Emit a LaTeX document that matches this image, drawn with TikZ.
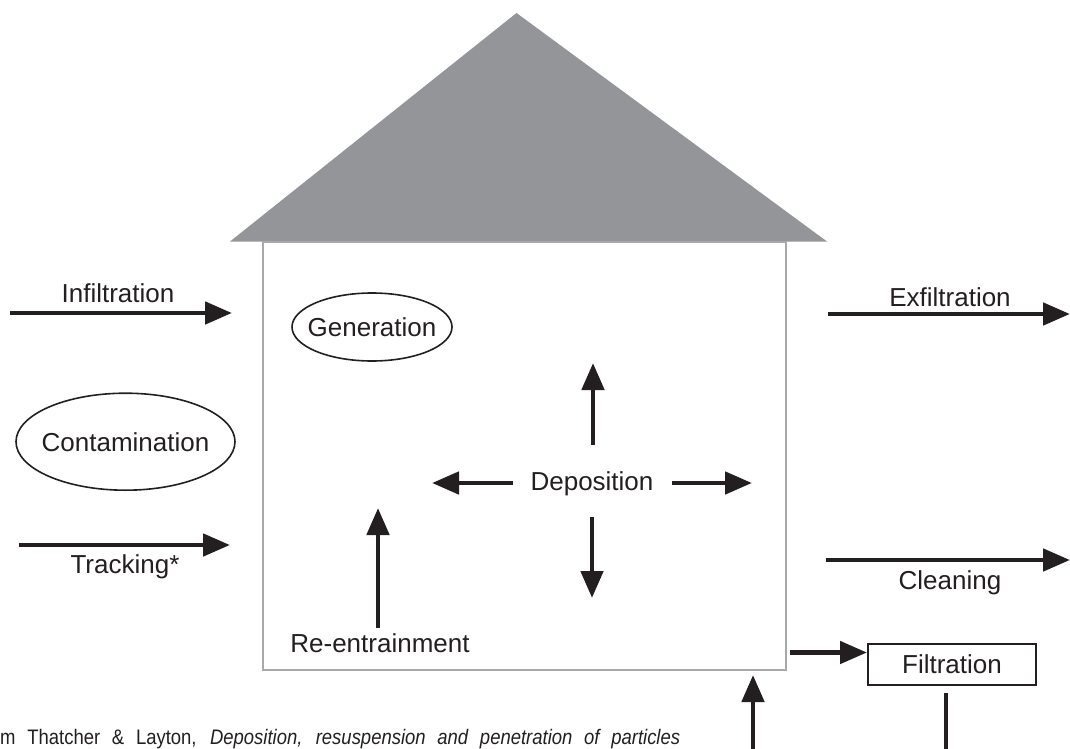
\documentclass[tikz,border=0pt]{standalone}
\usepackage{fontspec}
\setmainfont{Liberation Sans}
\newfontfamily\capfont[FakeStretch=0.88]{Liberation Sans}
\usetikzlibrary{arrows.meta,shapes.geometric}
\definecolor{ink}{HTML}{231F20}
\definecolor{roofgray}{HTML}{939598}
\definecolor{wallgray}{HTML}{A7A9AC}
\begin{document}
\begin{tikzpicture}[x=1pt,y=-1pt,
  lbl/.style={font=\fontsize{26}{30}\selectfont, text=ink, inner sep=0pt, anchor=base},
  flow/.style={draw=ink, line width=4.8pt, -{Triangle[length=27pt,width=22pt]}},
  oval/.style={ellipse, draw=ink, line width=1.6pt, inner sep=0pt},
  boxed/.style={rectangle, draw=ink, line width=2pt, inner sep=0pt, font=\fontsize{26}{30}\selectfont, text=ink}
  ]
\useasboundingbox (0,0) rectangle (1070,749);
\clip (0,0) rectangle (1070,749);
% roof
\fill[roofgray] (230,241.5) -- (516.5,13) -- (827,241.5) -- cycle;
% house
\node[draw=wallgray, line width=2pt, minimum width=523pt, minimum height=428pt, inner sep=0pt] (house) at (524.5,456) {};
% left side
\node[lbl] (infl) at (118,302) {Infiltration};
\coordinate (inflS) at (10,313);
\coordinate (inflE) at (232,313);
\draw[flow] (inflS) -- (inflE);
\node[oval, minimum width=219pt, minimum height=97pt] (contam) at (125.5,441.7) {};
\node[lbl] (contamtxt) at ([yshift=-9.5pt]contam.center) {Contamination};
\coordinate (trkS) at (19,545);
\coordinate (trkE) at (230,545);
\draw[flow] (trkS) -- (trkE);
\node[lbl] (trk) at (125,573) {Tracking*};
% inside
\node[oval, minimum width=160pt, minimum height=68pt] (gen) at (372,327) {};
\node[lbl] (gentxt) at ([yshift=-9.5pt]gen.center) {Generation};
\node[lbl] (dep) at (592,490) {Deposition};
\coordinate (depU1) at (593,445); \coordinate (depU2) at (593,363);
\coordinate (depL1) at (513,483); \coordinate (depL2) at (432,483);
\coordinate (depR1) at (672,483); \coordinate (depR2) at (752,483);
\coordinate (depD1) at (592,517); \coordinate (depD2) at (592,598);
\draw[flow] (depU1) -- (depU2);
\draw[flow] (depL1) -- (depL2);
\draw[flow] (depR1) -- (depR2);
\draw[flow] (depD1) -- (depD2);
\node[lbl] (reent) at (380,652) {Re-entrainment};
\coordinate (reS) at (378,628); \coordinate (reE) at (378,508);
\draw[flow] (reS) -- (reE);
% right side
\node[lbl] (exfl) at (950,306) {Exfiltration};
\coordinate (exS) at (828,314); \coordinate (exE) at (1070,314);
\draw[flow] (exS) -- (exE);
\coordinate (clS) at (826,560); \coordinate (clE) at (1070,560);
\draw[flow] (clS) -- (clE);
\node[lbl] (clean) at (950,589) {Cleaning};
\node[boxed, minimum width=168pt, minimum height=41pt] (filt) at (952,664.5) {Filtration};
\coordinate (hf) at (790,652.5);
\draw[flow] (hf) -- (hf -| filt.west);
\coordinate (fd) at (946,693);
\coordinate (fb) at (946,751);
\coordinate (hb) at (753,751);
\coordinate (hu) at (753,675);
\draw[flow] (fd) -- (fb) -- (hb) -- (hu);
% caption
\node[anchor=base west, inner sep=0pt, font=\capfont\fontsize{21}{24}\selectfont, text=ink] (cap) at (0,744)
  {\makebox[680pt][s]{m Thatcher \& Layton, \textit{Deposition, resuspension and penetration of particles}}};
\end{tikzpicture}
\end{document}
